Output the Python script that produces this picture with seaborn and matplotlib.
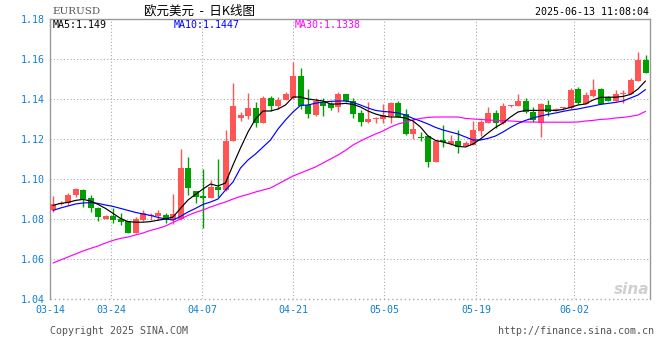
import numpy as np
import pandas as pd
import matplotlib
matplotlib.use('Agg')
import matplotlib.pyplot as plt
import seaborn as sns

# valores (EURUSD diario)
abertura = [1.0845, 1.0874, 1.0878, 1.0920, 1.0945, 1.0905, 1.0857, 1.0800, 1.0815, 1.0800,
            1.0790, 1.0732, 1.0797, 1.0813, 1.0817, 1.0820, 1.0795, 1.0798, 1.1057, 1.0940,
            1.0917, 1.0907, 1.0962, 1.0945, 1.1192, 1.1303, 1.1315, 1.1357, 1.1282, 1.1403,
            1.1365, 1.1395, 1.1403, 1.1517, 1.1368, 1.1320, 1.1387, 1.1375, 1.1362, 1.1425,
            1.1392, 1.1328, 1.1287, 1.1300, 1.1298, 1.1315, 1.1378, 1.1325, 1.1225, 1.1209,
            1.1215, 1.1087, 1.1195, 1.1175, 1.1190, 1.1167, 1.1172, 1.1240, 1.1282, 1.1330,
            1.1278, 1.1365, 1.1365, 1.1390, 1.1333, 1.1282, 1.1370, 1.1345, 1.1353, 1.1353,
            1.1450, 1.1375, 1.1415, 1.1450, 1.1408, 1.1392, 1.1425, 1.1425, 1.1492, 1.1595]
maxima = [1.0915, 1.0888, 1.0928, 1.0955, 1.0948, 1.0920, 1.0862, 1.0820, 1.0855, 1.0832,
          1.0792, 1.0810, 1.0847, 1.0832, 1.0845, 1.0832, 1.0923, 1.1150, 1.1112, 1.0942,
          1.1050, 1.0995, 1.1100, 1.1245, 1.1482, 1.1333, 1.1432, 1.1387, 1.1415, 1.1415,
          1.1408, 1.1433, 1.1583, 1.1557, 1.1448, 1.1403, 1.1405, 1.1385, 1.1433, 1.1427,
          1.1405, 1.1345, 1.1387, 1.1312, 1.1373, 1.1387, 1.1392, 1.1350, 1.1303, 1.1233,
          1.1218, 1.1195, 1.1270, 1.1222, 1.1245, 1.1190, 1.1290, 1.1295, 1.1362, 1.1345,
          1.1382, 1.1372, 1.1425, 1.1403, 1.1362, 1.1382, 1.1395, 1.1355, 1.1360, 1.1453,
          1.1458, 1.1437, 1.1498, 1.1455, 1.1415, 1.1445, 1.1445, 1.1503, 1.1633, 1.1620]
minimas = [1.0835, 1.0868, 1.0868, 1.0912, 1.0862, 1.0837, 1.0792, 1.0798, 1.0780, 1.0770,
           1.0728, 1.0728, 1.0792, 1.0795, 1.0795, 1.0778, 1.0775, 1.0795, 1.0920, 1.0878,
           1.0755, 1.0905, 1.0912, 1.0940, 1.1190, 1.1292, 1.1298, 1.1262, 1.1280, 1.1340,
           1.1348, 1.1393, 1.1400, 1.1352, 1.1307, 1.1315, 1.1315, 1.1347, 1.1333, 1.1385,
           1.1305, 1.1267, 1.1280, 1.1282, 1.1282, 1.1282, 1.1310, 1.1222, 1.1198, 1.1190,
           1.1058, 1.1085, 1.1160, 1.1170, 1.1132, 1.1165, 1.1170, 1.1215, 1.1280, 1.1253,
           1.1277, 1.1362, 1.1363, 1.1330, 1.1283, 1.1212, 1.1317, 1.1340, 1.1345, 1.1350,
           1.1375, 1.1373, 1.1410, 1.1375, 1.1390, 1.1390, 1.1378, 1.1423, 1.1490, 1.1530]
fechamento = [1.0875, 1.0882, 1.0921, 1.0950, 1.0900, 1.0855, 1.0812, 1.0817, 1.0795, 1.0783,
              1.0732, 1.0798, 1.0830, 1.0820, 1.0829, 1.0798, 1.0825, 1.1057, 1.0957, 1.0910,
              1.0905, 1.0962, 1.0945, 1.1190, 1.1367, 1.1320, 1.1357, 1.1282, 1.1403, 1.1365,
              1.1395, 1.1425, 1.1517, 1.1365, 1.1325, 1.1390, 1.1365, 1.1357, 1.1425, 1.1392,
              1.1325, 1.1287, 1.1300, 1.1303, 1.1320, 1.1378, 1.1312, 1.1225, 1.1248, 1.1207,
              1.1087, 1.1192, 1.1183, 1.1190, 1.1158, 1.1180, 1.1245, 1.1287, 1.1330, 1.1282,
              1.1365, 1.1370, 1.1390, 1.1333, 1.1295, 1.1375, 1.1337, 1.1350, 1.1358, 1.1445,
              1.1380, 1.1420, 1.1445, 1.1377, 1.1392, 1.1425, 1.1432, 1.1495, 1.1595, 1.1532]

ma5 = [1.0868, 1.0878, 1.0883, 1.0893, 1.0898, 1.0890, 1.0873, 1.0853, 1.0828, 1.0803,
       1.0787, 1.0784, 1.0784, 1.0787, 1.0794, 1.0800, 1.0810, 1.0853, 1.0895, 1.0923,
       1.0950, 1.0975, 1.0965, 1.0980, 1.1070, 1.1155, 1.1235, 1.1300, 1.1340, 1.1340,
       1.1350, 1.1370, 1.1410, 1.1410, 1.1400, 1.1395, 1.1390, 1.1375, 1.1375, 1.1378,
       1.1373, 1.1360, 1.1340, 1.1325, 1.1315, 1.1310, 1.1310, 1.1305, 1.1290, 1.1260,
       1.1215, 1.1193, 1.1185, 1.1175, 1.1163, 1.1160, 1.1175, 1.1200, 1.1230, 1.1258,
       1.1280, 1.1310, 1.1335, 1.1343, 1.1343, 1.1343, 1.1345, 1.1342, 1.1348, 1.1358,
       1.1370, 1.1375, 1.1395, 1.1408, 1.1409, 1.1409, 1.1413, 1.1423, 1.1450, 1.1490]
ma10 = [1.0843, 1.0855, 1.0865, 1.0875, 1.0880, 1.0882, 1.0878, 1.0870, 1.0863, 1.0853,
        1.0843, 1.0833, 1.0825, 1.0818, 1.0808, 1.0800, 1.0795, 1.0813, 1.0835, 1.0853,
        1.0873, 1.0885, 1.0900, 1.0945, 1.0985, 1.1055, 1.1095, 1.1125, 1.1160, 1.1195,
        1.1250, 1.1295, 1.1335, 1.1368, 1.1370, 1.1379, 1.1385, 1.1388, 1.1390, 1.1390,
        1.1383, 1.1370, 1.1355, 1.1343, 1.1338, 1.1335, 1.1330, 1.1320, 1.1303, 1.1290,
        1.1275, 1.1258, 1.1245, 1.1235, 1.1225, 1.1210, 1.1195, 1.1195, 1.1203, 1.1215,
        1.1235, 1.1258, 1.1278, 1.1293, 1.1305, 1.1315, 1.1323, 1.1330, 1.1338, 1.1345,
        1.1350, 1.1358, 1.1365, 1.1373, 1.1378, 1.1383, 1.1390, 1.1405, 1.1420, 1.1447]
ma30 = [1.0580, 1.0595, 1.0610, 1.0625, 1.0640, 1.0653, 1.0665, 1.0680, 1.0693, 1.0703,
        1.0710, 1.0720, 1.0730, 1.0743, 1.0753, 1.0765, 1.0783, 1.0800, 1.0818, 1.0833,
        1.0845, 1.0860, 1.0873, 1.0885, 1.0900, 1.0913, 1.0923, 1.0935, 1.0945, 1.0955,
        1.0975, 1.0995, 1.1015, 1.1030, 1.1045, 1.1060, 1.1080, 1.1100, 1.1120, 1.1143,
        1.1170, 1.1190, 1.1208, 1.1225, 1.1240, 1.1260, 1.1275, 1.1285, 1.1295, 1.1303,
        1.1308, 1.1310, 1.1310, 1.1310, 1.1310, 1.1303, 1.1300, 1.1298, 1.1295, 1.1293,
        1.1292, 1.1290, 1.1288, 1.1285, 1.1285, 1.1284, 1.1284, 1.1284, 1.1284, 1.1284,
        1.1285, 1.1290, 1.1293, 1.1298, 1.1300, 1.1305, 1.1308, 1.1313, 1.1320, 1.1338]

datas = ['03-14', '03-24', '04-07', '04-21', '05-05', '05-19', '06-02']
pos_datas = [-0.4, 7.73, 19.87, 32.0, 44.13, 56.4, 69.47]
precos_y = [1.04, 1.06, 1.08, 1.10, 1.12, 1.14, 1.16, 1.18]

df = pd.DataFrame({'abertura': abertura, 'maxima': maxima, 'minima': minimas,
                   'fechamento': fechamento, 'ma5': ma5, 'ma10': ma10, 'ma30': ma30})
df['idx'] = np.arange(len(df))

sns.set_style('white')
plt.rcParams['font.family'] = ['DejaVu Sans Mono', 'Noto Sans CJK SC']

VERMELHO = '#FF5555'
VERDE = '#009F00'
AZUL_TXT = '#1080D0'
GRADE = '#AAAAAA'

fig = plt.figure(figsize=(6.6, 3.6), dpi=100)
ax = fig.add_axes([50 / 660, 1 - 299 / 360, 600 / 660, 280 / 360])

# candles (vermelho = alta, verde = baixa)
sobe = df['fechamento'] >= df['abertura']
cores = np.where(sobe, VERMELHO, VERDE)
base = np.minimum(df['abertura'], df['fechamento'])
altura = np.maximum((df['fechamento'] - df['abertura']).abs(), 0.00045)
ax.vlines(df['idx'], df['minima'], df['maxima'], colors=cores, linewidth=1.0, zorder=2)
ax.bar(df['idx'], altura, bottom=base, width=0.8, color=cores, linewidth=0, zorder=3)

# medias moveis
sns.lineplot(data=df, x='idx', y='ma30', color='#FF00FF', linewidth=0.85, ax=ax, zorder=4)
sns.lineplot(data=df, x='idx', y='ma10', color='#0000FF', linewidth=0.85, ax=ax, zorder=5)
sns.lineplot(data=df, x='idx', y='ma5', color='black', linewidth=0.85, ax=ax, zorder=6)

ax.set_xlim(-0.4, 79.6)
ax.set_ylim(1.04, 1.18)

for p in precos_y[1:-1]:
    ax.axhline(p, color=GRADE, linestyle=(0, (1, 2)), linewidth=0.8, zorder=1)
ax.axhline(1.04, color=GRADE, linestyle=(0, (1, 2)), linewidth=1.0, zorder=1, clip_on=False)
for p in pos_datas[1:]:
    ax.axvline(p, color=GRADE, linestyle=(0, (1, 2)), linewidth=0.8, zorder=1)

for lado in ['left', 'top', 'right']:
    ax.spines[lado].set_color('#999999')
    ax.spines[lado].set_linewidth(1.0)
ax.spines['bottom'].set_visible(False)

ax.set_yticks(precos_y)
ax.set_yticklabels([f'{p:.2f}' for p in precos_y])
ax.set_xticks(pos_datas)
ax.set_xticklabels(datas)
ax.tick_params(axis='both', length=0, labelsize=7.2, labelcolor=AZUL_TXT)
ax.tick_params(axis='y', pad=4)
ax.tick_params(axis='x', pad=4)
ax.set_xlabel('')
ax.set_ylabel('')


def px(x, y):
    return x / 660, 1 - y / 360


# cabecalho
fig.text(*px(52, 12), 'EURUSD', fontsize=7.5, color='#555555', family='DejaVu Serif', va='center')
fig.text(*px(200, 11), '欧元美元  -  日K线图', fontsize=9, color='black', ha='center', va='center',
         family=['Noto Sans CJK SC', 'DejaVu Sans'])
fig.text(*px(649, 12), '2025-06-13 11:08:04', fontsize=7.2, color='black', ha='right', va='center')

# legenda das medias
fig.text(*px(53, 25), 'MA5:1.149', fontsize=7.2, color='black', va='center')
fig.text(*px(174, 25), 'MA10:1.1447', fontsize=7.2, color='#0000FF', va='center')
fig.text(*px(295, 25), 'MA30:1.1338', fontsize=7.2, color='#FF00FF', va='center')

# rodape
fig.text(*px(50, 331), 'Copyright 2025 SINA.COM', fontsize=7.2, color='#555555', va='center')
fig.text(*px(654, 331), 'http://finance.sina.com.cn', fontsize=7.2, color='#555555', ha='right', va='center')
fig.text(*px(632, 289), 'sina', fontsize=11, color='#D0D0D0', ha='center', va='center',
         style='italic', weight='bold', family='DejaVu Sans')

plt.savefig('out.png', dpi=100)
